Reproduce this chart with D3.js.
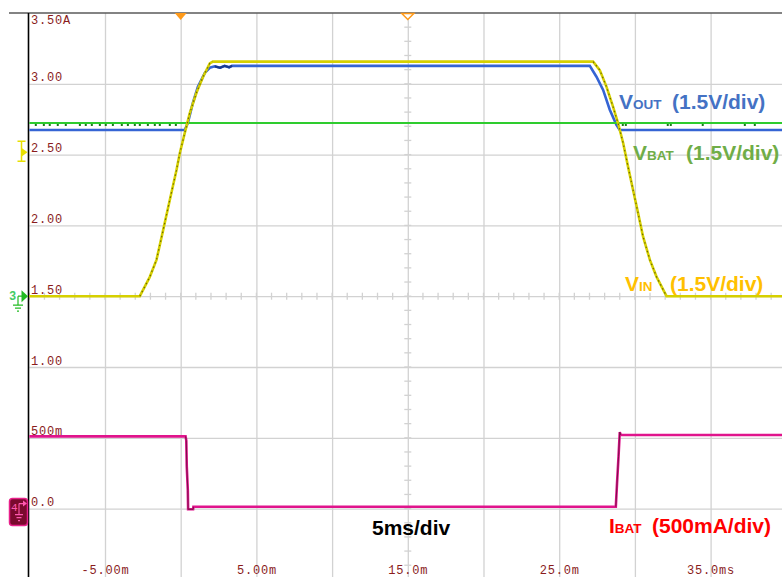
<!DOCTYPE html>
<html><head><meta charset="utf-8">
<script src="https://cdn.jsdelivr.net/npm/d3@7"></script>
<style>body{margin:0;background:#fff;} svg{display:block;}</style>
</head><body><svg id="c" width="782" height="577"></svg>
<script>
// ---------- data ----------
const gridTimes = [-5, 0, 5, 10, 15, 20, 25, 30, 35];           // ms, vertical grid lines
const timeLabelValues = [-5, 5, 15, 25, 35];
const timeLabels = ["-5.00m", "5.00m", "15.0m", "25.0m", "35.0ms"];
const ampLabelValues = [3.5, 3.0, 2.5, 2.0, 1.5, 1.0, 0.5, 0.0];  // channel 4 scale (A)
const ampLabels = ["3.50A", "3.00", "2.50", "2.00", "1.50", "1.00", "500m", "0.0"];
const triggerLevel = 3.05; // V

// VIN (V) vs time (ms)
const vinT = [-10, -2.70, -2.04, -1.60, -1.16, -0.72, -0.28, -0.06, 0.27, 0.60, 1.04, 1.48, 1.92, 2.12,
              27.24, 27.68, 28.12, 28.56, 28.89, 29.22, 29.55, 29.88, 30.21, 30.54, 30.99, 31.43, 32.09, 40];
const vinV = [0, 0, 0.41, 0.77, 1.40, 2.04, 2.67, 3.03, 3.46, 3.88, 4.31, 4.65, 4.93, 4.97,
              4.97, 4.79, 4.44, 4.01, 3.66, 3.25, 2.74, 2.25, 1.76, 1.26, 0.77, 0.41, 0, 0];
// VOUT (V)
const voutT = [-10, 0.27, 0.47, 0.80, 1.13, 1.59, 1.92, 2.25, 2.6, 2.9, 3.2, 3.4, 27.02, 27.46, 27.90, 28.34, 28.78, 29.0, 40];
const voutV = [3.52, 3.52, 3.67, 4.09, 4.43, 4.73, 4.84, 4.87, 4.84, 4.88, 4.85, 4.88, 4.88, 4.65, 4.37, 3.95, 3.63, 3.52, 3.52];
// VBAT (V)
const vbatT = [-10, 40];
const vbatV = [3.67, 3.67];
const vbatGlitchT = [-9.57, -9.04, -8.65, -8.12, -7.59, -6.66, -6.27, -5.87, -5.34, -4.95, -4.48, -3.89,
                     -3.49, -3.03, -2.70, -2.17, -1.71, -1.38, -0.72, -0.32, 29.20, 29.40, 32.17, 32.37, 34.48, 37.26, 37.92];
// IBAT (A)
const ibatT = [-10, 0.32, 0.37, 0.40, 0.47, 0.49, 0.82, 0.84, 28.74, 28.82, 28.92, 29.00, 29.07, 40];
const ibatI = [0.51, 0.51, 0.48, 0.30, 0.13, -0.005, -0.005, 0.013, 0.013, 0.18, 0.37, 0.54, 0.52, 0.52];

// ---------- scales ----------
const svg = d3.select("#c");
const x = d3.scaleLinear().domain([-10, 40]).range([29.3, 786.3]);
const yDiv = d3.scaleLinear().domain([-4, 4]).range([579.4, 13]);
const vScale = d3.scaleLinear().domain([0, 1.5]).range([yDiv(0), yDiv(1)]);   // 1.5 V/div, ground at center
const iScale = d3.scaleLinear().domain([0, 0.5]).range([yDiv(-3), yDiv(-2)]);  // 500 mA/div, zero 3 div below

// ---------- grid ----------
const gridColor = "#d2d2d2";
const hGrid = svg.append("g").attr("transform", `translate(${x(-10)},0)`)
  .call(d3.axisLeft(yDiv).tickValues(d3.range(-3, 4)).tickSize(-(782 - x(-10))).tickFormat(""));
hGrid.select(".domain").remove();
hGrid.selectAll("line").attr("stroke", gridColor).attr("stroke-width", 1.3);

const vGrid = svg.append("g").attr("transform", `translate(0,${yDiv(-4)})`)
  .call(d3.axisBottom(x).tickValues(gridTimes).tickSize(-(yDiv(-4) - yDiv(4))).tickFormat(""));
vGrid.select(".domain").remove();
vGrid.selectAll("line").attr("stroke", gridColor).attr("stroke-width", 1.3);

// center minor ticks
const minorT = d3.range(-10, 40.01, 1);
svg.append("g").selectAll("line").data(minorT).join("line")
  .attr("x1", d => x(d)).attr("x2", d => x(d))
  .attr("y1", yDiv(0) - 3.5).attr("y2", yDiv(0) + 3.5)
  .attr("stroke", gridColor).attr("stroke-width", 1.3);
const minorD = d3.range(-4, 4.01, 0.2);
svg.append("g").selectAll("line").data(minorD).join("line")
  .attr("x1", x(15) - 3.5).attr("x2", x(15) + 3.5)
  .attr("y1", d => yDiv(d)).attr("y2", d => yDiv(d))
  .attr("stroke", gridColor).attr("stroke-width", 1.3);

// frame: top border and left axis
svg.append("line").attr("x1", 9).attr("x2", 782).attr("y1", yDiv(4)).attr("y2", yDiv(4))
  .attr("stroke", "#5a5a5a").attr("stroke-width", 1.3);
svg.append("line").attr("x1", x(-10) - 0.8).attr("x2", x(-10) - 0.8).attr("y1", yDiv(4)).attr("y2", 577)
  .attr("stroke", "#000").attr("stroke-width", 1.6);

// ---------- scale labels ----------
const labFont = "'Liberation Mono', 'DejaVu Sans Mono', monospace";
const labColor = "#8a1c1c";
svg.append("g").selectAll("text").data(ampLabelValues).join("text")
  .attr("x", 31)
  .attr("y", (d, i) => i === 0 ? iScale(d) + 11 : iScale(d) - 2.5)
  .attr("font-family", labFont).attr("font-size", 12).attr("letter-spacing", 0.8)
  .attr("fill", labColor)
  .text((d, i) => ampLabels[i]);

const xLab = svg.append("g").attr("transform", `translate(0,574)`)
  .call(d3.axisBottom(x).tickValues(timeLabelValues).tickSize(0).tickPadding(0)
        .tickFormat((d, i) => timeLabels[i]));
xLab.select(".domain").remove();
xLab.selectAll("text").attr("dy", 0).attr("y", 0)
  .attr("font-family", labFont).attr("font-size", 12).attr("letter-spacing", 0.8)
  .attr("fill", labColor).attr("text-anchor", "middle");

// ---------- traces ----------
const line = (ys) => d3.line().x(d => x(d[0])).y(d => ys(d[1]));
const vin = vinT.map((t, i) => [t, vinV[i]]);
const vout = voutT.map((t, i) => [t, voutV[i]]);
const vbat = vbatT.map((t, i) => [t, vbatV[i]]);
const ibat = ibatT.map((t, i) => [t, ibatI[i]]);

svg.append("path").datum(ibat).attr("d", line(iScale))
  .attr("fill", "none").attr("stroke", "#e0148c").attr("stroke-width", 2.6);
[[0.3, 0.9], [28.7, 29.1]].forEach(([a, b]) => {
  svg.append("path").datum(ibat.filter(d => d[0] > a && d[0] < b))
    .attr("d", line(iScale)).attr("fill", "none").attr("stroke", "#7a1048").attr("stroke-width", 1);
});

svg.append("path").datum(vout).attr("d", line(vScale))
  .attr("fill", "none").attr("stroke", "#3564d4").attr("stroke-width", 2.6);
svg.append("path").datum(vout.filter(d => d[0] > 2.2 && d[0] < 3.5)).attr("d", line(vScale))
  .attr("fill", "none").attr("stroke", "#1a3a90").attr("stroke-width", 2.2);

svg.append("path").datum(vbat).attr("d", line(vScale))
  .attr("fill", "none").attr("stroke", "#2ecc2e").attr("stroke-width", 2.2);
svg.append("g").selectAll("rect").data(vbatGlitchT).join("rect")
  .attr("x", d => x(d) - 1).attr("y", vScale(3.67) + 1).attr("width", 2).attr("height", 2)
  .attr("fill", "#1a7a1a");

svg.append("path").datum(vin).attr("d", line(vScale))
  .attr("fill", "none").attr("stroke", "#d6d000").attr("stroke-width", 2.6);
[[-2.7, 2.12], [27.24, 32.09]].forEach(([a, b]) => {
  svg.append("path").datum(vin.filter(d => d[0] >= a && d[0] <= b))
    .attr("d", line(vScale)).attr("fill", "none").attr("stroke", "#6e6a00")
    .attr("stroke-width", 1.2).attr("stroke-dasharray", "1.5,3");
});

// ---------- markers ----------
const tTop = yDiv(4);
svg.append("path").attr("d", `M${x(0) - 6},${tTop} L${x(0) + 6},${tTop} L${x(0)},${tTop + 7} Z`)
  .attr("fill", "#ff9a1a");
svg.append("path").attr("d", `M${x(15) - 6},${tTop + 0.5} L${x(15) + 6},${tTop + 0.5} L${x(15)},${tTop + 6.5} Z`)
  .attr("fill", "#fff").attr("stroke", "#ff9a1a").attr("stroke-width", 1.5);

// trigger level marker (yellow T)
const trigY = vScale(triggerLevel);
svg.append("path").attr("d", `M17.5,${trigY - 11} L25.5,${trigY - 11} M21.5,${trigY - 11} L21.5,${trigY + 9} M17.5,${trigY + 9} L25.5,${trigY + 9}`)
  .attr("stroke", "#e8e000").attr("stroke-width", 1.5).attr("fill", "none");
svg.append("path").attr("d", `M22,${trigY - 4} L27.5,${trigY} L22,${trigY + 4} Z`).attr("fill", "#e8e000");

// channel 3 ground marker
const g3 = yDiv(0);
svg.append("text").attr("x", 9).attr("y", g3 + 4).attr("font-family", labFont).attr("font-size", 12)
  .attr("font-weight", "bold").attr("fill", "#44cc66").text("3");
svg.append("path").attr("d", `M21.5,${g3 - 6} L28,${g3} L21.5,${g3 + 6} Z`).attr("fill", "#22bb22");
svg.append("path").attr("d", `M18,${g3} L18,${g3 + 9} M13,${g3 + 9} L23,${g3 + 9} M15,${g3 + 12} L21,${g3 + 12} M17,${g3 + 15} L19,${g3 + 15} M18,${g3} L22,${g3}`)
  .attr("stroke", "#22bb22").attr("stroke-width", 1.2).attr("fill", "none");

// channel 4 marker box
const g4 = iScale(0);
svg.append("rect").attr("x", 9.5).attr("y", g4 - 10).attr("width", 18).attr("height", 27).attr("rx", 3)
  .attr("fill", "#7a0a2e").attr("stroke", "#e8208a").attr("stroke-width", 1.5);
svg.append("text").attr("x", 11).attr("y", g4 + 2).attr("font-family", labFont).attr("font-size", 11)
  .attr("fill", "#ff5ab0").text("4");
svg.append("path").attr("d", `M19,${g4 - 5} L19,${g4 + 6} M15,${g4 + 6} L23,${g4 + 6} M16.5,${g4 + 9} L21.5,${g4 + 9} M18,${g4 + 12} L20,${g4 + 12} M19,${g4 - 5} L24,${g4 - 5}`)
  .attr("stroke", "#ff5ab0").attr("stroke-width", 1.1).attr("fill", "none");
svg.append("path").attr("d", `M23,${g4 - 8} L27,${g4 - 5} L23,${g4 - 2} Z`).attr("fill", "#ff5ab0");

// ---------- annotations ----------
const lf = "'Liberation Sans', Arial, sans-serif";
function legend(xp, yp, main, sub, rest, color, restX) {
  const t = svg.append("text").attr("x", xp).attr("y", yp).attr("font-family", lf)
    .attr("font-weight", "bold").attr("font-size", 21).attr("fill", color);
  t.append("tspan").text(main);
  t.append("tspan").attr("font-size", 13.5).text(sub);
  t.append("tspan").attr("x", restX).text(rest);
}
legend(619, 109, "V", "OUT", "(1.5V/div)", "#4472c4", 672);
legend(633, 160, "V", "BAT", "(1.5V/div)", "#70ad47", 686);
legend(625, 291, "V", "IN", "(1.5V/div)", "#ffc000", 670);
legend(609, 533, "I", "BAT", "(500mA/div)", "#ff0000", 652);

svg.append("text").attr("x", 372).attr("y", 535).attr("font-family", lf).attr("font-weight", "bold")
  .attr("font-size", 21).attr("fill", "#000").text("5ms/div");
</script></body></html>
